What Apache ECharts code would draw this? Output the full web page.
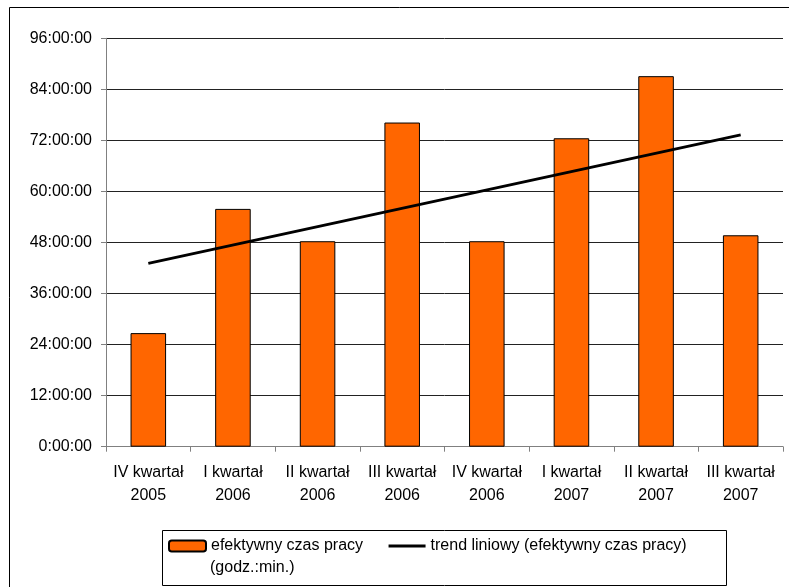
<!DOCTYPE html>
<html>
<head>
<meta charset="utf-8">
<script src="https://cdn.jsdelivr.net/npm/echarts@6/dist/echarts.min.js"></script>
<style>
html,body{margin:0;padding:0;background:#fff;}
#chart{width:789px;height:587px;}
</style>
</head>
<body>
<div id="chart"></div>
<script>
var categories = ['IV kwartał\n2005', 'I kwartał\n2006', 'II kwartał\n2006', 'III kwartał\n2006', 'IV kwartał\n2006', 'I kwartał\n2007', 'II kwartał\n2007', 'III kwartał\n2007'];
var hours = [26.7, 55.9, 48.3, 76.2, 48.3, 72.5, 87.1, 49.7];
var trendHours = [43.1, null, null, null, null, null, null, 73.3];
var seriesNames = ['efektywny czas pracy (godz.:min.)', 'trend liniowy (efektywny czas pracy)'];
var legendLines = ['efektywny czas pracy', '(godz.:min.)'];
var yMin = 0, yMax = 96, yStep = 12;

var FONT = '"Liberation Sans", Arial, sans-serif';
var chart = echarts.init(document.getElementById('chart'));
chart.setOption({
  animation: false,
  backgroundColor: '#ffffff',
  textStyle: { fontFamily: FONT },
  grid: { left: 106, right: 6, top: 38.3, bottom: 140.3, containLabel: false },
  xAxis: {
    type: 'category',
    data: categories,
    boundaryGap: true,
    axisLine: { lineStyle: { color: '#808080', width: 1 } },
    axisTick: { show: true, length: 5, inside: false, alignWithLabel: false, lineStyle: { color: '#808080' } },
    axisLabel: { color: '#000', fontSize: 16, fontFamily: FONT, lineHeight: 23, margin: 14, interval: 0 },
    splitLine: { show: false }
  },
  yAxis: {
    type: 'value',
    min: yMin, max: yMax, interval: yStep,
    axisLine: { show: true, lineStyle: { color: '#808080', width: 1 } },
    axisTick: { show: true, length: 5, lineStyle: { color: '#808080' } },
    axisLabel: {
      color: '#000', fontSize: 16, fontFamily: FONT, margin: 14,
      formatter: function (v) { return v + ':00:00'; }
    },
    splitLine: { show: true, lineStyle: { color: '#222', width: 1 } }
  },
  legend: {
    left: 168, top: 538, padding: 0,
    itemWidth: 37, itemHeight: 11, itemGap: 24,
    textStyle: { fontSize: 16, fontFamily: FONT, color: '#000', lineHeight: 16 },
    data: [
      { name: seriesNames[0] },
      { name: seriesNames[1], itemStyle: { opacity: 0, color: 'rgba(0,0,0,0)', borderWidth: 0 }, lineStyle: { width: 3, color: '#000' } }
    ],
    formatter: function (name) { return name === seriesNames[0] ? legendLines[0] : name; }
  },
  series: [
    {
      name: seriesNames[0],
      type: 'bar',
      data: hours,
      barWidth: '42%',
      itemStyle: { color: '#FF6600', borderColor: '#000', borderWidth: 1 }
    },
    {
      name: seriesNames[1],
      type: 'line',
      data: trendHours,
      connectNulls: true,
      symbol: 'none',
      lineStyle: { color: '#000', width: 3 },
      itemStyle: { color: 'rgba(0,0,0,0)', borderWidth: 0 },
      z: 5
    }
  ],
  graphic: [
    { type: 'rect', shape: { x: 9.5, y: 7.5, width: 800, height: 600 }, style: { fill: 'none', stroke: '#000', lineWidth: 1 }, silent: true, z: -1 },
    { type: 'rect', shape: { x: 162.5, y: 530.5, width: 564, height: 55 }, style: { fill: 'none', stroke: '#000', lineWidth: 1 }, silent: true },
    { type: 'text', left: 210, top: 560, style: { text: legendLines[1], fontSize: 16, fontFamily: FONT, fill: '#000' }, silent: true }
  ]
});
</script>
</body>
</html>
